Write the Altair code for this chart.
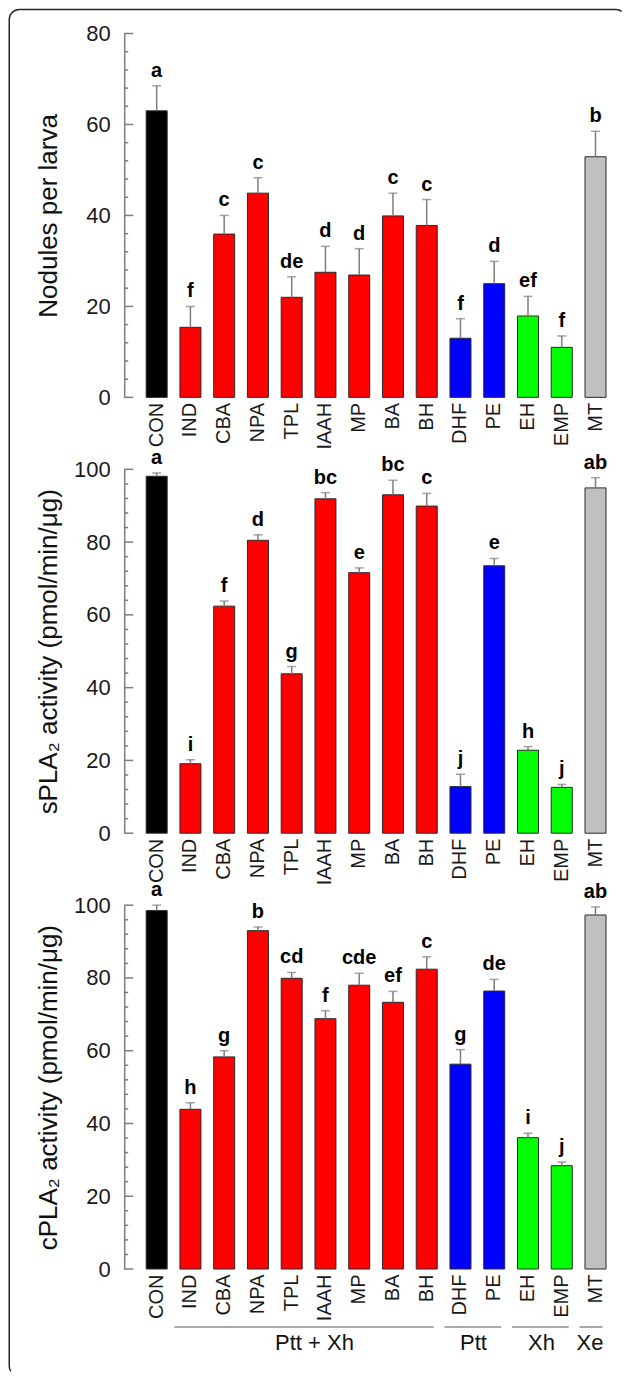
import altair as alt
import pandas as pd

# ---------------- data ----------------
treatments = ["CON", "IND", "CBA", "NPA", "TPL", "IAAH", "MP", "BA", "BH",
              "DHF", "PE", "EH", "EMP", "MT"]
treat_group = ["Control"] + ["Ptt + Xh"] * 8 + ["Ptt"] * 2 + ["Xh"] * 2 + ["Xe"]

nod_mean = [63.0, 15.4, 35.9, 44.9, 22.0, 27.5, 26.9, 39.9, 37.8, 13.0, 25.0, 17.9, 11.0, 52.9]
nod_err = [5.5, 4.6, 4.1, 3.4, 4.5, 5.7, 5.8, 5.0, 5.7, 4.3, 4.9, 4.3, 2.5, 5.6]
nod_letters = ["a", "f", "c", "c", "de", "d", "d", "c", "c", "f", "d", "ef", "f", "b"]

spla_mean = [98.1, 19.1, 62.4, 80.5, 43.8, 91.9, 71.6, 93.0, 89.9, 12.8, 73.5, 22.8, 12.6, 94.9]
spla_err = [0.9, 1.1, 1.4, 1.5, 2.0, 1.7, 1.3, 4.0, 3.5, 3.4, 2.0, 1.0, 0.8, 2.8]
spla_letters = ["a", "i", "f", "d", "g", "bc", "e", "bc", "c", "j", "e", "h", "j", "ab"]

cpla_mean = [98.5, 43.9, 58.3, 93.0, 79.9, 68.8, 78.0, 73.3, 82.4, 56.3, 76.4, 36.1, 28.4, 97.3]
cpla_err = [1.5, 1.8, 1.7, 1.0, 1.6, 2.2, 3.3, 3.0, 3.4, 4.0, 3.2, 1.2, 1.0, 2.2]
cpla_letters = ["a", "h", "g", "b", "cd", "f", "cde", "ef", "c", "g", "de", "i", "j", "ab"]

group_names = ["Ptt + Xh", "Ptt", "Xh", "Xe"]
group_first = ["IND", "DHF", "EH", "MT"]
group_last = ["BH", "PE", "EMP", "MT"]

# ---------------- style ----------------
FONT = "Liberation Sans"
GRAY = "#7d7d7d"
group_domain = ["Control", "Ptt + Xh", "Ptt", "Xh", "Xe"]
group_colors = ["#000000", "#ff0000", "#0000ff", "#00ff00", "#c0c0c0"]
W, H = 490, 364
label_anchor = {"Ptt + Xh": ("IAAH", -11), "Ptt": ("DHF", 13), "Xh": ("EH", 13.5), "Xe": ("MT", -5.5)}

# outer figure frame (pixel offsets from the first panel's plot origin)
FR_X0, FR_X1, FR_Y0, FR_Y1, FR_R = -115, 502, -24, 1343, 10
_w, _h = FR_X1 - FR_X0, FR_Y1 - FR_Y0
_arc = 3.1416 * FR_R / 2
_top, _side = _w - 2 * FR_R, _h - 2 * FR_R
# show top edge, left edge and the left corners; the right/bottom edges lie beyond the picture
frame_dash = [_top + 6, (_arc - 6) + _side + _arc + _top + (_arc - 6), 6 + _side + _arc]

xscale = alt.Scale(domain=treatments, paddingInner=0.378, paddingOuter=0.444, align=0.733)
x_axis = alt.Axis(title=None, domain=False, ticks=False, tickSize=0, labelAngle=270,
                  labelPadding=5, labelFontSize=20, labelFont=FONT, labelColor="#1a1a1a",
                  grid=False)


def panel(mean, err, letters, ymax, title, border=False, groups=False):
    df = pd.DataFrame({
        "treatment": treatments,
        "group": treat_group,
        "mean": mean,
        "upper": [m + e for m, e in zip(mean, err)],
        "letter": letters,
    })
    yscale = alt.Scale(domain=[0, ymax], nice=False, zero=True)
    major = list(range(0, ymax + 1, 20))
    minor = [v for v in range(0, ymax + 1, 4) if v % 20 != 0]
    y_axis = alt.Axis(title=title, values=major, grid=False, ticks=False, tickSize=0,
                      domainColor=GRAY, domainWidth=1.5, labelPadding=14,
                      labelFontSize=22, labelFont=FONT, labelColor="#1a1a1a",
                      titleFont=FONT, titleFontSize=26, titleFontWeight="normal",
                      titleColor="#111111", titleAngle=270, titleX=-68, titleY=H / 2,
                      titleBaseline="alphabetic", titleAlign="center")

    def X(field):
        return alt.X(field, scale=xscale, axis=x_axis, title=None)

    def Y(field):
        return alt.Y(field, scale=yscale, axis=y_axis, title=title)

    bars = alt.Chart(df).mark_bar(stroke="#2a2a2a", strokeWidth=1).encode(
        x=X("treatment:N"), y=Y("mean:Q"),
        color=alt.Color("group:N", scale=alt.Scale(domain=group_domain, range=group_colors),
                        legend=None),
    )
    err_line = alt.Chart(df).mark_rule(color=GRAY, strokeWidth=1.5).encode(
        x=X("treatment:N"), y=Y("mean:Q"), y2="upper:Q")
    caps = alt.Chart(df).mark_tick(color=GRAY, thickness=1.5, size=9).encode(
        x=X("treatment:N"), y=Y("upper:Q"))
    text = alt.Chart(df).mark_text(font=FONT, fontSize=20, fontWeight="bold", color="#000000",
                                   baseline="alphabetic", dy=-9).encode(
        x=X("treatment:N"), y=Y("upper:Q"), text="letter:N")

    tmaj = alt.Chart(pd.DataFrame({"v": major})).mark_rule(color=GRAY, strokeWidth=1.5).encode(
        y=Y("v:Q"), x=alt.value(0), x2=alt.value(9))
    tmin = alt.Chart(pd.DataFrame({"v": minor})).mark_rule(color=GRAY, strokeWidth=1.5).encode(
        y=Y("v:Q"), x=alt.value(0), x2=alt.value(4))

    layers = [bars, err_line, caps, text, tmaj, tmin]

    if groups:
        gdf = pd.DataFrame({"name": group_names, "first": group_first, "last": group_last})
        glines = alt.Chart(gdf).mark_rule(color="#8c8c8c", strokeWidth=1.5,
                                          xOffset=-16, x2Offset=7).encode(
            x=X("first:N"), x2="last:N", y=alt.value(422))
        layers.append(glines)
        for name in group_names:
            anchor, nudge = label_anchor[name]
            ldf = pd.DataFrame({"name": [name], "anchor": [anchor]})
            lab = alt.Chart(ldf).mark_text(font=FONT, fontSize=22, color="#111111",
                                           baseline="alphabetic", dx=nudge).encode(
                x=X("anchor:N"), y=alt.value(445), text="name:N")
            layers.append(lab)

    if border:
        bdf = pd.DataFrame({"k": [0]})
        frame = alt.Chart(bdf).mark_rect(fillOpacity=0, fill="#ffffff", stroke="#262626",
                                         strokeWidth=1.5, cornerRadius=FR_R,
                                         strokeDash=frame_dash).encode(
            x=alt.value(FR_X0), x2=alt.value(FR_X1), y=alt.value(FR_Y0), y2=alt.value(FR_Y1))
        layers = [frame] + layers

    return alt.layer(*layers).properties(width=W, height=H)


p1 = panel(nod_mean, nod_err, nod_letters, 80, "Nodules per larva", border=True)
p2 = panel(spla_mean, spla_err, spla_letters, 100, "sPLA₂ activity (pmol/min/μg)")
p3 = panel(cpla_mean, cpla_err, cpla_letters, 100, "cPLA₂ activity (pmol/min/μg)", groups=True)

chart = alt.vconcat(p1, p2, p3, spacing=72, bounds="flush").properties(
    padding={"left": 8.25, "top": 8.25, "right": 0, "bottom": 0},
    background="#ffffff",
).configure_view(stroke=None)

chart.save("out.html", embed_options={"renderer": "svg", "actions": False})
